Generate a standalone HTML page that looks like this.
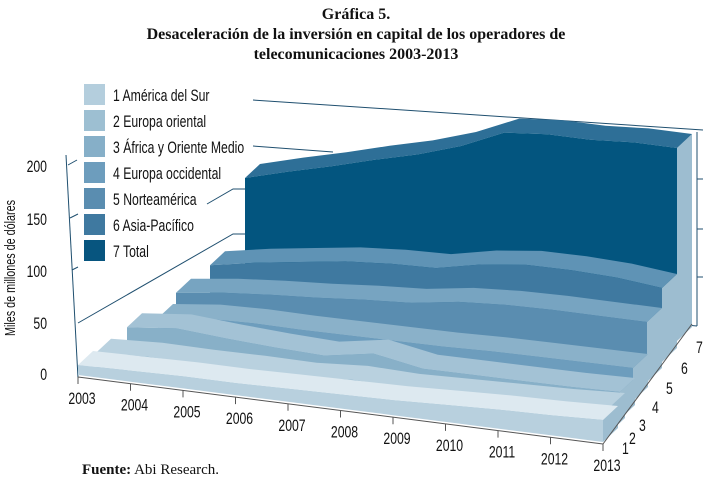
<!DOCTYPE html>
<html><head><meta charset="utf-8"><style>
body{margin:0;background:#fff;}
svg{display:block;}
.n{font-family:"Liberation Sans",sans-serif;fill:#111;}
</style></head><body>
<svg id="c" width="709" height="484" viewBox="0 0 709 484">
<g font-family="Liberation Serif, serif" font-weight="bold" font-size="16" text-anchor="middle" fill="#111">
<text x="356" y="19">Gráfica 5.</text>
<text x="356" y="39">Desaceleración de la inversión en capital de los operadores de</text>
<text x="356" y="59">telecomunicaciones 2003-2013</text>
</g>
<g id="grid" stroke="#1f4f6f" stroke-width="1" fill="none">
<polyline points="78,323 233,234 245,234"/>
<polyline points="207,204 233,189 245,189"/>
<polyline points="253,146 333,152"/>
<polyline points="253,100 703,130"/>
<line x1="78" y1="378" x2="66" y2="155"/>
<line x1="68" y1="165" x2="77" y2="160"/>
<line x1="70" y1="218" x2="78" y2="214"/>
<line x1="72" y1="270" x2="78" y2="267"/>
<line x1="697" y1="132" x2="697" y2="326"/>
<line x1="697" y1="179" x2="703" y2="179"/>
<line x1="697" y1="229" x2="703" y2="229"/>
<line x1="697" y1="277" x2="703" y2="277"/>
<line x1="686" y1="325" x2="697" y2="326"/>
</g>
<g id="ribbons"></g>
<g id="axes"></g>
<g font-size="17" text-anchor="end">
<text class="n" transform="translate(47,380) scale(0.72,1)">0</text>
<text class="n" transform="translate(47,329) scale(0.72,1)">50</text>
<text class="n" transform="translate(47,277) scale(0.72,1)">100</text>
<text class="n" transform="translate(47,225) scale(0.72,1)">150</text>
<text class="n" transform="translate(47,172) scale(0.72,1)">200</text>
</g>
<text class="n" font-size="15" text-anchor="middle" transform="translate(15,268) rotate(-90) scale(0.72,1)">Miles de millones de dólares</text>
<g id="legend"></g>
<text x="82" y="474" font-family="Liberation Serif, serif" font-size="15" fill="#111"><tspan font-weight="bold">Fuente:</tspan> Abi Research.</text>
</svg>
<script>
const years = ['2003','2004','2005','2006','2007','2008','2009','2010','2011','2012','2013'];
const seriesNames = ['1 América del Sur','2 Europa oriental','3 África y Oriente Medio','4 Europa occidental','5 Norteamérica','6 Asia-Pacífico','7 Total'];
const depthLabels = ['1','2','3','4','5','6','7'];
const sAmericaSur = [10,11,12,12,13,14,15,17,19,20,22];
const sEuropaOriental = [19,21,20,20,19,22,20,21,22,23,25];
const sAfricaOM = [41,45,40,36,33,40,30,29,28,27,27];
const sEuropaOcc = [47,50,49,46,44,42,40,39,37,35,33];
const sNorteamerica = [69,71,71,70,70,69,72,71,68,64,60];
const sAsiaPac = [93,96,97,98,96,92,96,96,91,84,74];
const sTotal = [177,182,186,191,195,202,214,211,204,200,193];
const series = [sAmericaSur,sEuropaOriental,sAfricaOM,sEuropaOcc,sNorteamerica,sAsiaPac,sTotal];

const faceCol = ['#b8d0de','#9dbfd2','#88b0c8','#6d9dbd','#5a8db0','#3f79a0','#03557f'];
const topCol = ['#dde9f0','#b9d1df','#a3c2d5','#8ab1c9','#77a4c1','#5f93b5','#2e6f97'];
const sideCol = '#9dbdd0';
const leftX = [78,96,127,158,176,210,245];
const rightX = [603,610,620,633,647,662,677];
const leftBase = [375,371.7,368.3,365,361.7,358.3,355];
const rightBase = [442,432,419,401,382,362,341];
const DX = 15, DY = -14;
const NS = 'http://www.w3.org/2000/svg';
function xAt(k,j){return leftX[k]+(rightX[k]-leftX[k])*j/(years.length-1);}
function baseAt(k,j){return leftBase[k]+(rightBase[k]-leftBase[k])*j/(years.length-1);}
function yAt(k,j,v){return baseAt(k,j)-v;}
function poly(parent,pts,fill,name){
  const p=document.createElementNS(NS,'polygon');
  p.setAttribute('points',pts.map(q=>q[0].toFixed(1)+','+q[1].toFixed(1)).join(' '));
  p.setAttribute('fill',fill);
  
  
  parent.appendChild(p);return p;
}
function ntext(parent,x,y,size,anchor,str){
  const t=document.createElementNS(NS,'text');
  t.setAttribute('transform','translate('+x+','+y+') scale(0.72,1)');
  t.setAttribute('font-size',size);t.setAttribute('text-anchor',anchor);
  t.setAttribute('class','n');
  t.textContent=str;
  parent.appendChild(t);return t;
}
const rib=document.getElementById('ribbons');
for(let k=series.length-1;k>=0;k--){
  const g=document.createElementNS(NS,'g');
  
  
  rib.appendChild(g);
  const vals=series[k];
  const front=vals.map((v,j)=>[xAt(k,j),yAt(k,j,v)]);
  const back=front.map(p=>[p[0]+DX,p[1]+DY]).reverse();
  const n=vals.length-1;
  poly(g,[[xAt(k,n),yAt(k,n,vals[n])],[xAt(k,n)+DX,yAt(k,n,vals[n])+DY],[xAt(k,n)+DX,baseAt(k,n)+DY],[xAt(k,n),baseAt(k,n)]],sideCol,'ribbon-side-'+(k+1));
  poly(g,front.concat(back),topCol[k],'ribbon-top-'+(k+1));
  const bottom=vals.map((v,j)=>[xAt(k,j),baseAt(k,j)]).reverse();
  poly(g,front.concat(bottom),faceCol[k],'ribbon-face-'+(k+1));
}
const ax=document.getElementById('axes');
function line(x1,y1,x2,y2,name){
  const l=document.createElementNS(NS,'line');
  l.setAttribute('x1',x1);l.setAttribute('y1',y1);l.setAttribute('x2',x2);l.setAttribute('y2',y2);
  l.setAttribute('stroke','#555');l.setAttribute('stroke-width','1');
  
  
  ax.appendChild(l);
}
line(78,377,603,444,'x-axis-line');
line(603,444,692,324,'depth-axis-line');
years.forEach((y,j)=>{
  const x=xAt(0,j), b=baseAt(0,j)+2;
  line(x,b,x,b+7,'x-tick');
  const t=ntext(ax,x+4,b+27,17,'middle',y);
  
  
});
depthLabels.forEach((d,k)=>{
  const x=rightX[k]+DX+4, y=rightBase[k]+DY+26;
  const t=ntext(ax,x,y,17,'start',d);
  
  
});
const lg=document.getElementById('legend');
const swCol=['#b4cedd','#9dbfd2','#86afc8','#6d9dbd','#5a8db0','#3f79a0','#07557f'];
seriesNames.forEach((s,i)=>{
  const g=document.createElementNS(NS,'g');
  
  
  lg.appendChild(g);
  const r=document.createElementNS(NS,'rect');
  r.setAttribute('x',84);r.setAttribute('y',84+i*26);r.setAttribute('width',21);r.setAttribute('height',21);
  r.setAttribute('fill',swCol[i]);
  
  
  g.appendChild(r);
  const t=ntext(g,113,101+i*26,17,'start',s);
  
  
});
</script>
</body></html>
